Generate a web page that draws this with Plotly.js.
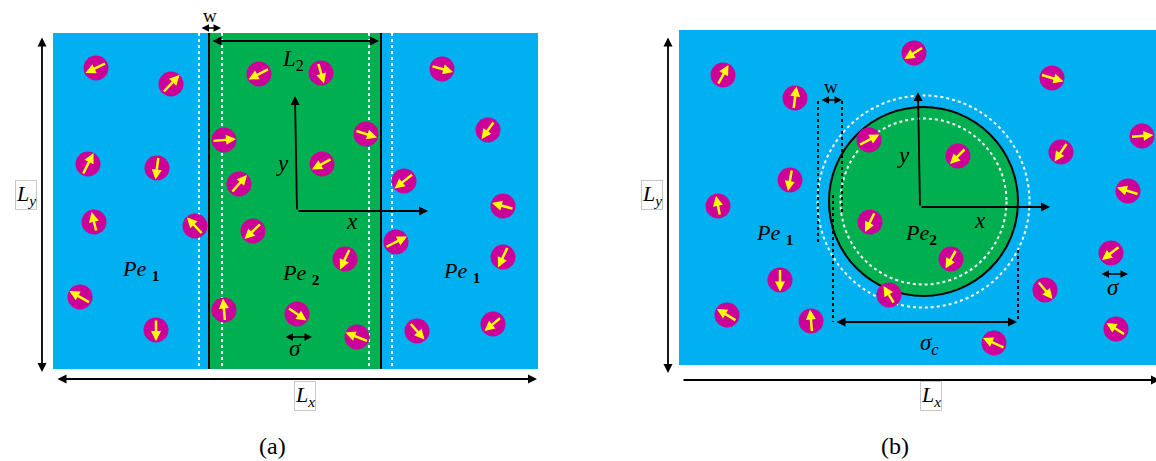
<!DOCTYPE html>
<html><head><meta charset="utf-8">
<script src="https://cdn.plot.ly/plotly-3.0.1.min.js"></script>
<style>html,body{margin:0;padding:0;background:#fff;}</style>
</head><body><div id="chart" style="width:1156px;height:461px;"></div>
<script>
// Panel (a) particles: centre positions (px) and arrow direction (px)
const aPx = [96,171,88,157,94,195,80,156, 259,321,224,366,322,239,253,345,224,297,357, 442,488,404,503,396,503,417,493];
const aPy = [68,84,164,168,222,226,297,330, 74,73,140,134,164,184,231,259,310,314,337, 69,130,181,206,242,257,331,324];
const aDx = [-21,17,11,-3,-5,-16,-21,0, -21,6,24,22,-20,16,-17,-10,-2,19,-23, 22,-13,-19,-22,22,-10,15,-17];
const aDy = [10,-18,-22,23,-20,-17,-12,22, 11,21,-2,7,11,-18,16,21,-23,13,-9, 6,18,15,-6,-11,21,17,14];
// Panel (b) particles
const bPx = [723,914,1052,795,869,958,1061,1142,790,718,1128,870,951,1111,780,889,1045,727,811,994,1116];
const bPy = [75,53,78,98,140,156,152,136,180,206,191,222,259,253,280,295,290,315,321,343,329];
const bDx = [11,-19,23,3,21,-16,-13,23,-4,-4,-22,-10,-11,-18,0,-11,15,-20,-2,-22,-19];
const bDy = [-20,12,7,-23,-11,16,19,-2,22,-20,-7,20,19,14,23,-18,18,-12,-23,-10,-12];

const BLUE = '#00B0F0', GREEN = '#00B050', MAG = '#CC0099', YEL = '#FFFF00';
const SERIF = '"Liberation Serif", "DejaVu Serif", serif';

const traces = [
  {x: aPx, y: aPy, mode: 'markers', type: 'scatter', hoverinfo: 'skip',
   marker: {size: 25, color: MAG, line: {width: 0}}},
  {x: bPx, y: bPy, mode: 'markers', type: 'scatter', hoverinfo: 'skip',
   marker: {size: 25, color: MAG, line: {width: 0}}}
];

const ann = [];
function addParticleArrows(px, py, dx, dy) {
  for (let i = 0; i < px.length; i++) {
    ann.push({x: px[i] + dx[i]/2, y: py[i] + dy[i]/2, ax: px[i] - dx[i]/2, ay: py[i] - dy[i]/2,
      xref: 'x', yref: 'y', axref: 'x', ayref: 'y', text: '', showarrow: true,
      arrowhead: 2, arrowsize: 0.8, arrowwidth: 2.5, arrowcolor: YEL, standoff: 0, startstandoff: 0});
  }
}
addParticleArrows(aPx, aPy, aDx, aDy);
addParticleArrows(bPx, bPy, bDx, bDy);

function arrow(x0, y0, x1, y1, both, w) {
  ann.push({x: x1, y: y1, ax: x0, ay: y0, xref: 'x', yref: 'y', axref: 'x', ayref: 'y', text: '',
    showarrow: true, arrowhead: 2, startarrowhead: 2, arrowside: both ? 'end+start' : 'end',
    arrowsize: 1, startarrowsize: 1, arrowwidth: w || 1.8, arrowcolor: '#000', standoff: 0, startstandoff: 0});
}
function label(x, y, t, size, extra) {
  ann.push(Object.assign({x: x, y: y, xref: 'x', yref: 'y', text: t, showarrow: false,
    font: {family: SERIF, size: size, color: '#000'}}, extra || {}));
}

// Panel (a) arrows
arrow(42, 36, 42, 372, true);
arrow(56, 379, 537, 379, true);
arrow(211, 41, 379, 41, true);
arrow(200, 28, 221, 28, true, 1.5);
arrow(297, 211, 295, 96, false);
arrow(297, 211, 428, 211, false);
arrow(284, 337, 312, 337, true, 1.5);
// Panel (b) arrows
arrow(668, 36, 668, 373, true);
arrow(682, 380, 1160, 380, false);
arrow(920, 207, 918, 92, false);
arrow(920, 207, 1050, 207, false);
arrow(820, 100, 842, 100, true, 1.5);
arrow(835, 322, 1017, 322, true);
arrow(1100, 274, 1128, 274, true, 1.5);

// Labels (a)
label(26, 195, '<i>L</i><sub><i>y</i></sub>', 22, {bordercolor: '#c8c8c8', borderwidth: 1, bgcolor: '#fff', borderpad: 0});
label(305, 396, '<i>L</i><sub><i>x</i></sub>', 22, {bordercolor: '#c8c8c8', borderwidth: 1, bgcolor: '#fff', borderpad: 0});
label(210, 15, 'w', 19);
label(293, 60, '<i>L</i><sub>2</sub>', 23);
label(282, 163, '<i>y</i>', 23);
label(352, 221, '<i>x</i>', 23);
label(140, 270, '<i>Pe</i> <sub><b>1</b></sub>', 22);
label(461, 272, '<i>Pe</i> <sub><b>1</b></sub>', 22);
label(301, 274, '<i>Pe</i> <sub><b>2</b></sub>', 22);
label(295, 348, '<i>σ</i>', 23);
label(272, 446, '(a)', 24);
// Labels (b)
label(652, 195, '<i>L</i><sub><i>y</i></sub>', 22, {bordercolor: '#c8c8c8', borderwidth: 1, bgcolor: '#fff', borderpad: 0});
label(931, 396, '<i>L</i><sub><i>x</i></sub>', 22, {bordercolor: '#c8c8c8', borderwidth: 1, bgcolor: '#fff', borderpad: 0});
label(831, 86, 'w', 19);
label(903, 155, '<i>y</i>', 23);
label(980, 220, '<i>x</i>', 23);
label(774, 234, '<i>Pe</i> <sub><b>1</b></sub>', 22);
label(921, 234, '<i>Pe</i><sub><b>2</b></sub>', 22);
label(929, 344, '<i>σ</i><sub><i>c</i></sub>', 23);
label(1113, 287, '<i>σ</i>', 23);
label(895, 446, '(b)', 24);

function rect(x0, y0, x1, y1, fill) {
  return {type: 'rect', xref: 'x', yref: 'y', x0: x0, y0: y0, x1: x1, y1: y1, fillcolor: fill, line: {width: 0}, layer: 'below'};
}
function vline(x, y0, y1, color, dash, w) {
  return {type: 'line', xref: 'x', yref: 'y', x0: x, x1: x, y0: y0, y1: y1, line: {color: color, dash: dash || 'solid', width: w || 2}, layer: 'below'};
}
function circ(cx, cy, r, fill, color, dash, w) {
  return {type: 'circle', xref: 'x', yref: 'y', x0: cx - r, x1: cx + r, y0: cy - r, y1: cy + r,
    fillcolor: fill, line: {color: color, dash: dash || 'solid', width: w}, layer: 'below'};
}

const shapes = [
  rect(53, 33, 538, 369, BLUE),
  rect(209, 33, 381, 369, GREEN),
  vline(209, 33, 369, '#000', 'solid', 2),
  vline(381, 33, 369, '#000', 'solid', 2),
  vline(199, 33, 369, '#fff', 'dot', 2),
  vline(222, 33, 369, '#fff', 'dot', 2),
  vline(369, 33, 369, '#fff', 'dot', 2),
  vline(392, 33, 369, '#fff', 'dot', 2),
  rect(679, 30, 1156, 365, BLUE),
  circ(923.5, 201.5, 106, 'rgba(0,0,0,0)', '#fff', 'dot', 2),
  circ(923.5, 201.5, 94.5, GREEN, '#000', 'solid', 2),
  circ(923.5, 201.5, 83, 'rgba(0,0,0,0)', '#fff', 'dot', 2),
  vline(818, 101, 242, '#000', 'dot', 2),
  vline(842, 101, 214, '#000', 'dot', 2),
  vline(833, 195, 322, '#000', 'dot', 2),
  vline(1018, 250, 322, '#000', 'dot', 2)
];

const layout = {
  width: 1156, height: 461, autosize: false,
  margin: {l: 0, r: 0, t: 0, b: 0, pad: 0},
  paper_bgcolor: '#fff', plot_bgcolor: '#fff', showlegend: false,
  xaxis: {range: [0, 1156], visible: false, fixedrange: true},
  yaxis: {range: [461, 0], visible: false, fixedrange: true},
  shapes: shapes, annotations: ann
};
Plotly.newPlot('chart', traces, layout, {displayModeBar: false, staticPlot: true});
</script></body></html>
